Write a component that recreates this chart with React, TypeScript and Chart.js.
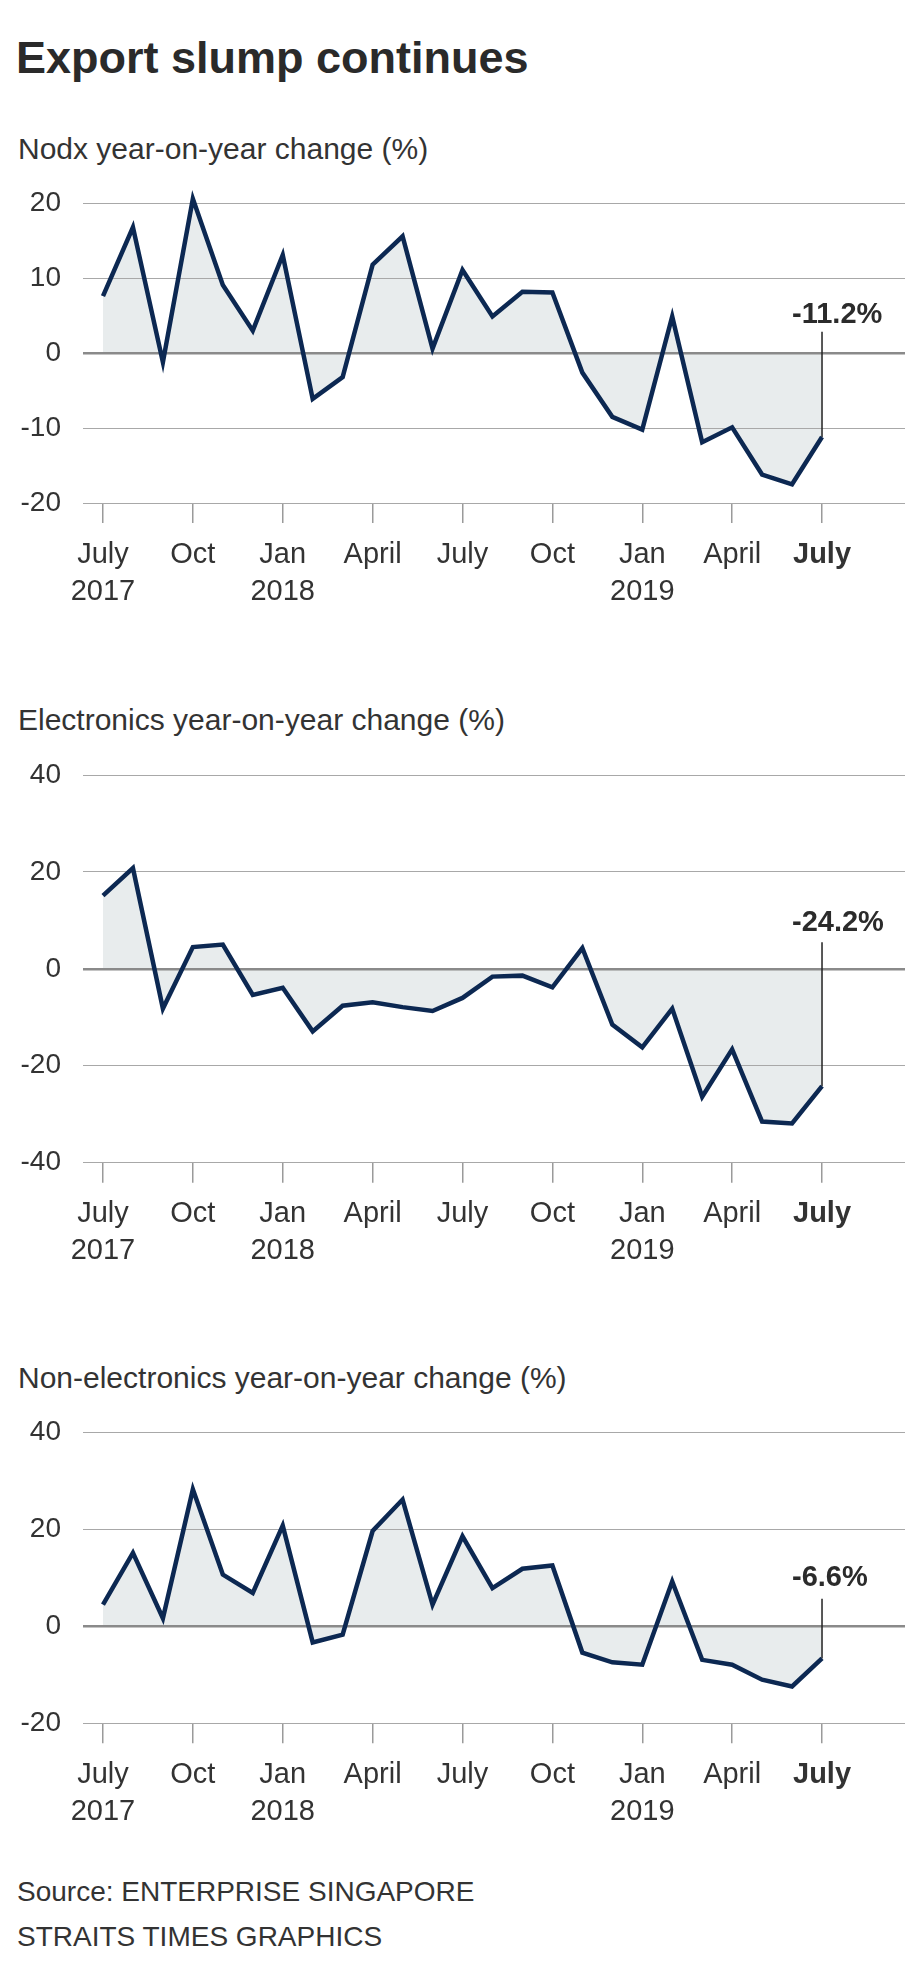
import React, { useEffect, useRef } from "react";
import { Chart, registerables } from "chart.js";

Chart.register(...registerables);

const FONT = "'Liberation Sans', Arial, Helvetica, sans-serif";
const NAVY = "rgb(12, 40, 82)";
const FILL = "rgb(232, 236, 237)";
const TEXT = "#333333";

// Months: July 2017 .. July 2019 (25 monthly points)
const months = [
  "Jul 2017", "Aug 2017", "Sep 2017", "Oct 2017", "Nov 2017", "Dec 2017",
  "Jan 2018", "Feb 2018", "Mar 2018", "Apr 2018", "May 2018", "Jun 2018",
  "Jul 2018", "Aug 2018", "Sep 2018", "Oct 2018", "Nov 2018", "Dec 2018",
  "Jan 2019", "Feb 2019", "Mar 2019", "Apr 2019", "May 2019", "Jun 2019",
  "Jul 2019",
];

const nodx = [
  7.6, 16.8, -1.2, 20.6, 9.1, 3.0, 13.1, -6.1, -3.2, 11.8, 15.6, 0.6,
  11.1, 4.9, 8.2, 8.1, -2.6, -8.5, -10.2, 4.9, -11.9, -9.9, -16.2, -17.5, -11.2,
];

const electronics = [
  15.1, 20.8, -8.2, 4.5, 5.0, -5.4, -3.9, -12.9, -7.6, -6.9, -7.9, -8.7,
  -6.0, -1.6, -1.4, -3.8, 4.3, -11.5, -16.2, -8.2, -26.4, -16.6, -31.5, -31.9, -24.2,
];

const nonElectronics = [
  4.5, 15.2, 1.7, 28.3, 10.7, 6.9, 20.8, -3.3, -1.7, 19.7, 26.2, 4.5,
  18.6, 7.9, 11.9, 12.6, -5.4, -7.4, -7.9, 9.3, -6.9, -7.9, -11.0, -12.4, -6.6,
];

const xTickMonths = [0, 3, 6, 9, 12, 15, 18, 21, 24];
const xTickLabels = [
  ["July", "2017"], ["Oct"], ["Jan", "2018"], ["April"], ["July"],
  ["Oct"], ["Jan", "2019"], ["April"], ["July"],
];

const nodxTicks = [-20, -10, 0, 10, 20];
const electronicsTicks = [-40, -20, 0, 20, 40];
const nonElectronicsTicks = [-20, 0, 20, 40];

const X_MIN = -0.667;
const X_MAX = 26.77;

const lastLabelPlugin = {
  id: "lastLabel",
  beforeDatasetsDraw(chart: any, _args: any, opts: any) {
    const meta = chart.getDatasetMeta(0);
    const pts = meta.data;
    const p = pts[pts.length - 1];
    const ys = chart.scales.y;
    const zero = ys.getPixelForValue(0);
    const baseY = zero - opts.gap;
    const ctx = chart.ctx;
    const data = chart.data.datasets[0].data;
    const v = data[data.length - 1].y;
    ctx.save();
    ctx.strokeStyle = "#222222";
    ctx.lineWidth = 1.5;
    ctx.beginPath();
    ctx.moveTo(p.x, baseY + opts.lineGap);
    ctx.lineTo(p.x, p.y);
    ctx.stroke();
    ctx.fillStyle = "#2b2b2b";
    ctx.font = `bold 29px ${FONT}`;
    ctx.textAlign = "left";
    ctx.textBaseline = "alphabetic";
    ctx.fillText(`${v.toFixed(1)}%`, p.x - 30, baseY);
    ctx.restore();
  },
};

type ChartProps = {
  values: number[];
  yTicks: number[];
  yMin: number;
  yMax: number;
  canvasTop: number;
  areaTop: number;
  areaBottom: number;
  labelGap: number;
  lineGap: number;
};

const AXIS_H = 110;

function LineChart(props: ChartProps) {
  const ref = useRef<HTMLCanvasElement>(null);
  const { values, yTicks, yMin, yMax, canvasTop, areaTop, areaBottom, labelGap, lineGap } = props;
  const height = Math.round(areaBottom + AXIS_H - canvasTop);
  const xAxisH = height - (areaBottom - canvasTop);

  useEffect(() => {
    const chart = new Chart(ref.current as HTMLCanvasElement, {
      type: "line",
      data: {
        labels: months,
        datasets: [
          {
            data: values.map((v, i) => ({ x: i, y: v })),
            borderColor: NAVY,
            borderWidth: 4.5,
            backgroundColor: FILL,
            fill: "origin",
            pointRadius: 0,
            pointHoverRadius: 0,
            tension: 0,
            borderJoinStyle: "miter",
            borderCapStyle: "butt",
            clip: false,
          } as any,
        ],
      },
      options: {
        animation: false,
        responsive: false,
        maintainAspectRatio: false,
        devicePixelRatio: 1,
        events: [],
        layout: {
          autoPadding: false,
          padding: { top: areaTop - canvasTop, right: 15, left: 0, bottom: 0 },
        },
        plugins: {
          legend: { display: false },
          tooltip: { enabled: false },
          filler: { drawTime: "beforeDraw" },
          lastLabel: { gap: labelGap, lineGap },
        } as any,
        scales: {
          x: {
            type: "linear",
            min: X_MIN,
            max: X_MAX,
            afterBuildTicks: (s: any) => {
              s.ticks = xTickMonths.map((v) => ({ value: v }));
            },
            afterFit: (s: any) => {
              s.height = xAxisH;
              s.paddingLeft = 0;
              s.paddingRight = 0;
            },
            border: { display: false },
            grid: {
              drawOnChartArea: false,
              drawTicks: true,
              tickLength: 20,
              color: "#9a9a9a",
              lineWidth: 1.5,
            },
            ticks: {
              autoSkip: false,
              maxRotation: 0,
              minRotation: 0,
              padding: 13,
              color: TEXT,
              font: (ctx: any) => ({
                family: FONT,
                size: 29,
                lineHeight: 1.28,
                weight: ctx.index === xTickMonths.length - 1 ? "bold" : "normal",
              }),
              callback: (value: any) => {
                const k = xTickMonths.indexOf(Number(value));
                return k >= 0 ? xTickLabels[k] : "";
              },
            },
          } as any,
          y: {
            type: "linear",
            min: yMin,
            max: yMax,
            afterBuildTicks: (s: any) => {
              s.ticks = yTicks.map((v) => ({ value: v }));
            },
            afterFit: (s: any) => {
              s.width = 83;
              s.paddingTop = 0;
              s.paddingBottom = 0;
            },
            border: { display: false },
            grid: {
              drawTicks: false,
              color: (ctx: any) => (ctx.tick && ctx.tick.value === 0 ? "#8a8a8a" : "#a8a8a8"),
              lineWidth: (ctx: any) => (ctx.tick && ctx.tick.value === 0 ? 2.5 : 1),
            },
            ticks: {
              padding: 22,
              color: TEXT,
              font: { family: FONT, size: 28 },
              callback: (value: any) => String(value),
            },
          } as any,
        },
      },
      plugins: [lastLabelPlugin],
    });
    return () => chart.destroy();
  }, []);

  return (
    <canvas
      ref={ref}
      width={920}
      height={height}
      style={{ position: "absolute", left: 0, top: canvasTop, width: 920, height }}
    />
  );
}

const textStyle = (top: number, size: number, bold = false): React.CSSProperties => ({
  position: "absolute",
  left: 18,
  top,
  fontFamily: FONT,
  fontSize: size,
  lineHeight: `${size}px`,
  fontWeight: bold ? 700 : 400,
  color: bold ? "#2a2a2a" : TEXT,
  whiteSpace: "nowrap",
  margin: 0,
});

export default function App() {
  return (
    <div
      style={{
        position: "absolute",
        left: 0,
        top: 0,
        width: 920,
        height: 1988,
        background: "#ffffff",
        overflow: "hidden",
      }}
    >
      <div style={{ ...textStyle(34.6, 45, true), left: 16 }}>Export slump continues</div>
      <div style={textStyle(134, 30)}>Nodx year-on-year change (%)</div>
      <LineChart
        values={nodx}
        yTicks={nodxTicks}
        yMin={-20}
        yMax={22}
        canvasTop={180}
        areaTop={188.3}
        areaBottom={503}
        labelGap={30.3}
        lineGap={9}
      />
      <div style={textStyle(705.3, 30)}>Electronics year-on-year change (%)</div>
      <LineChart
        values={electronics}
        yTicks={electronicsTicks}
        yMin={-40}
        yMax={40}
        canvasTop={760}
        areaTop={775}
        areaBottom={1162.7}
        labelGap={37.6}
        lineGap={11}
      />
      <div style={textStyle(1363, 30)}>Non-electronics year-on-year change (%)</div>
      <LineChart
        values={nonElectronics}
        yTicks={nonElectronicsTicks}
        yMin={-20}
        yMax={40}
        canvasTop={1420}
        areaTop={1432.7}
        areaBottom={1723.3}
        labelGap={40.7}
        lineGap={13}
      />
      <div style={{ ...textStyle(1878, 28), left: 17 }}>Source: ENTERPRISE SINGAPORE</div>
      <div style={{ ...textStyle(1923, 28), left: 17 }}>STRAITS TIMES GRAPHICS</div>
    </div>
  );
}
